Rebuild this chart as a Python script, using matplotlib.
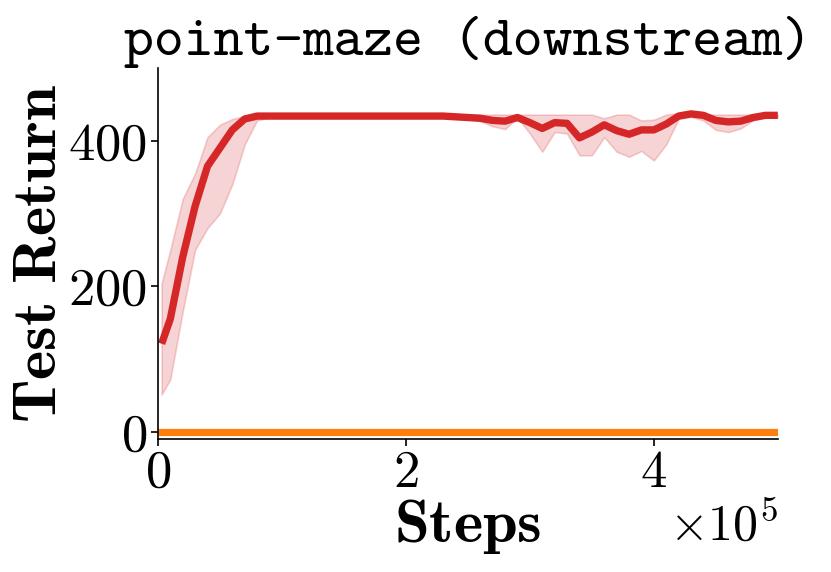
import matplotlib
matplotlib.use("Agg")
import matplotlib.pyplot as plt

plt.rcParams["font.family"] = ["cmr10", "DejaVu Sans"]
plt.rcParams["mathtext.fontset"] = "cm"
plt.rcParams["axes.formatter.use_mathtext"] = True

steps = [3000, 10000, 20000, 30000, 40000, 50000, 60000, 70000, 80000, 90000,
         100000, 110000, 120000, 130000, 140000, 150000, 160000, 170000, 180000, 190000,
         200000, 210000, 220000, 230000, 240000, 250000, 260000, 270000, 280000, 290000,
         300000, 310000, 320000, 330000, 340000, 350000, 360000, 370000, 380000, 390000,
         400000, 410000, 420000, 430000, 440000, 450000, 460000, 470000, 480000, 490000,
         500000]

# downstream policy, mean and spread
ret_mean = [121, 155, 240, 310, 365, 390, 415, 430, 434, 434,
            434, 434, 434, 434, 434, 434, 434, 434, 434, 434,
            434, 434, 434, 434, 433, 432, 431, 428, 427, 432,
            425, 417, 425, 424, 404, 412, 422, 414, 409, 415,
            415, 423, 434, 437, 435, 428, 426, 427, 432, 435,
            435]
ret_low = [51, 72, 165, 250, 280, 300, 340, 395, 428, 432,
           432, 432, 432, 432, 432, 432, 432, 432, 432, 432,
           432, 432, 432, 432, 432, 430, 427, 420, 416, 432,
           410, 385, 412, 410, 380, 380, 405, 385, 378, 386,
           373, 395, 430, 433, 428, 415, 412, 417, 428, 433,
           433]
ret_high = [204, 250, 320, 355, 405, 422, 430, 434, 436, 436,
            436, 436, 436, 436, 436, 436, 436, 436, 436, 436,
            436, 436, 436, 436, 436, 436, 436, 436, 436, 436,
            436, 436, 436, 436, 436, 436, 431, 436, 436, 428,
            429, 436, 438, 438, 437, 436, 436, 436, 436, 436,
            436]

# baseline stays at zero
base_steps = [0, 500000]
base_ret = [0, 0]

fig = plt.figure(figsize=(8.31, 5.72), dpi=100)
ax = fig.add_axes([0.190, 0.2325, 0.746, 0.6485])

ax.plot(base_steps, base_ret, color="#ff7f0e", lw=5.2, solid_capstyle="butt")
ax.fill_between(steps, ret_low, ret_high, color="#d62728", alpha=0.2, lw=1.2)
ax.plot(steps, ret_mean, color="#d62728", lw=5.3, solid_capstyle="butt")

ax.set_xlim(0, 500000)
ax.set_ylim(-10, 500)
ax.set_xticks([0, 200000, 400000])
ax.set_yticks([0, 200, 400])
ax.ticklabel_format(axis="x", style="sci", scilimits=(5, 5), useMathText=True)
ax.tick_params(labelsize=38, width=1.2, length=5, pad=3)
ax.xaxis.get_offset_text().set_fontsize(36)
ax.spines["top"].set_visible(False)
ax.spines["right"].set_visible(False)
for s in ["left", "bottom"]:
    ax.spines[s].set_linewidth(1.2)

ax.set_xlabel(r"$\mathbf{Steps}$", fontsize=45, labelpad=0)
ax.set_ylabel(r"$\mathbf{Test\ Return}$", fontsize=45, labelpad=0)
ax.set_title("point-maze (downstream)", family="cmtt10", fontsize=41, pad=8)

fig.savefig("out.png", dpi=100)
